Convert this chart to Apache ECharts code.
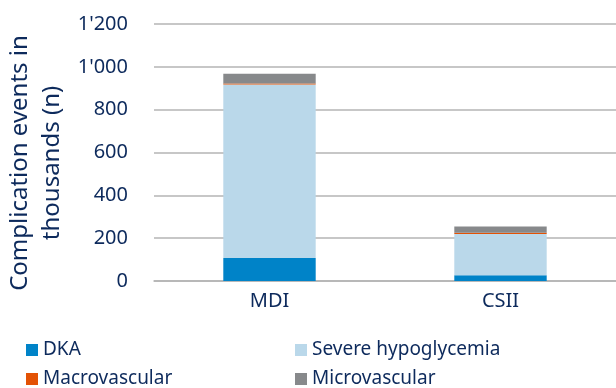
<!DOCTYPE html>
<html>
<head>
<meta charset="utf-8">
<script src="https://cdn.jsdelivr.net/npm/echarts@6/dist/echarts.min.js"></script>
<style>
  html, body { margin: 0; padding: 0; background: #ffffff; }
  #chart { width: 616px; height: 388px; }
</style>
</head>
<body>
<div id="chart"></div>
<script>
// Complication events (thousands) by insulin delivery method
const categories = ['MDI', 'CSII'];
const dka = [107, 27];
const severeHypoglycemia = [810, 193];
const macrovascular = [5, 5];
const microvascular = [46, 30];
const yTicks = [0, 200, 400, 600, 800, 1000, 1200];

const textColor = '#0d2a5c';
const font = 'Noto Sans';

function fmtThousands(v) {
  return String(v).replace(/\B(?=(\d{3})+(?!\d))/g, "'");
}

const seriesDefs = [
  { name: 'DKA', data: dka, color: '#0083c8' },
  { name: 'Severe hypoglycemia', data: severeHypoglycemia, color: '#bad8ea' },
  { name: 'Macrovascular', data: macrovascular, color: '#e35205' },
  { name: 'Microvascular', data: microvascular, color: '#87898b' }
];

const chart = echarts.init(document.getElementById('chart'), null, { renderer: 'canvas' });

const legendText = { color: textColor, fontSize: 19, fontFamily: font, lineHeight: 20 };
const legendBase = {
  orient: 'vertical', itemWidth: 12, itemHeight: 12, itemGap: 9, padding: 0,
  icon: 'rect', textStyle: legendText, height: 60
};

chart.setOption({
  animation: false,
  grid: { left: 154, right: -5, top: 24, bottom: 107, containLabel: false },
  graphic: [{
    type: 'text',
    x: 36, y: 163,
    rotation: Math.PI / 2,
    style: {
      text: 'Complication events in\nthousands (n)',
      fill: textColor,
      font: '24px "Noto Sans"',
      align: 'center',
      verticalAlign: 'middle',
      lineHeight: 32
    }
  }],
  legend: [
    Object.assign({}, legendBase, { left: 26, top: 340, data: ['DKA', 'Macrovascular'] }),
    Object.assign({}, legendBase, { left: 295, top: 340, data: ['Severe hypoglycemia', 'Microvascular'] })
  ],
  xAxis: {
    type: 'category',
    data: categories,
    axisLine: { show: true, lineStyle: { color: '#b4b4b4', width: 1.5 } },
    axisTick: { show: false },
    axisLabel: { color: textColor, fontSize: 20, fontFamily: font, margin: 10 }
  },
  yAxis: {
    type: 'value',
    min: yTicks[0],
    max: yTicks[yTicks.length - 1],
    interval: 200,
    axisLine: { show: false },
    axisTick: { show: false },
    splitLine: { lineStyle: { color: '#b4b4b4', width: 1.5 } },
    axisLabel: { color: textColor, fontSize: 20, fontFamily: font, margin: 26, formatter: fmtThousands }
  },
  series: seriesDefs.map(s => ({
    name: s.name,
    type: 'bar',
    stack: 'total',
    barWidth: '40%',
    data: s.data,
    itemStyle: { color: s.color }
  }))
});
</script>
</body>
</html>
